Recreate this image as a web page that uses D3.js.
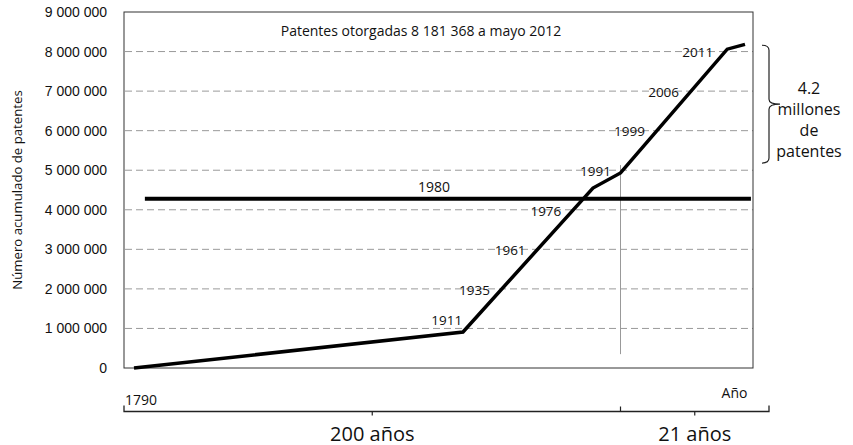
<!DOCTYPE html>
<html>
<head>
<meta charset="utf-8">
<script src="https://cdn.jsdelivr.net/npm/d3@7"></script>
<style>
  body { margin: 0; background: #fff; }
  svg { display: block; font-family: "Open Sans", "Noto Sans", sans-serif; }
</style>
</head>
<body>
<svg id="chart" width="853" height="445"></svg>
<script>
const title = 'Patentes otorgadas 8 181 368 a mayo 2012';
const yLabel = 'Número acumulado de patentes';
const yTickValues = [0, 1000000, 2000000, 3000000, 4000000, 5000000, 6000000, 7000000, 8000000, 9000000];

// cumulative patents curve (schematic time axis)
const lineYears = [1790, 1911, 1977, 1991, 2009, 2012];
const lineValues = [0, 910000, 4550000, 4930000, 8060000, 8181368];

// year in which each million was reached
const milestoneLabels = ['1911', '1935', '1961', '1976', '1991', '1999', '2006', '2011'];
const milestoneValues = [1000000, 2000000, 3000000, 4000000, 5000000, 6000000, 7000000, 8000000];

// 1980 reference level
const refLabel = '1980';
const refValue = 4280000;
const refYears = [1794, 2013];

// thin marker at 1991
const markerYear = 1991;
const markerValues = [350000, 5130000];

// right brace: last 4.2 million
const braceValues = [5180000, 8160000];
const braceText = ['4.2', 'millones', 'de', 'patentes'];

// bottom timeline
const spanLabels = ['200 años', '21 años'];
const spanYears = [[1790, 1991], [1991, 2012]];
const startLabel = '1790';
const xLabel = 'Año';

const margin = { top: 12, right: 100, bottom: 77, left: 124 };
const width = 853 - margin.left - margin.right;
const height = 445 - margin.top - margin.bottom;
const ink = '#111';

const svg = d3.select('#chart');
const g = svg.append('g').attr('transform', `translate(${margin.left},${margin.top})`);

const x = d3.scaleLinear()
  .domain([1790, 1911, 1991, 2012])
  .range([10, 339, 496.5, 621]);

const timeline = d3.scaleLinear()
  .domain([1790, 1991, 2012])
  .range([0, 496.5, 645]);

const y = d3.scaleLinear()
  .domain([0, 9000000])
  .range([height, 0]);

const fmt = d3.formatLocale({ decimal: ',', thousands: ' ', grouping: [3], currency: ['', ''] }).format(',');

// gridlines
g.append('g')
  .selectAll('line')
  .data(yTickValues.filter(v => v > 0 && v < 9000000))
  .enter()
  .append('line')
  .attr('x1', 1)
  .attr('x2', width)
  .attr('y1', d => y(d))
  .attr('y2', d => y(d))
  .attr('stroke', '#9a9a9a')
  .attr('stroke-width', 1)
  .attr('stroke-dasharray', '7,4');

// y axis labels
const yAxis = g.append('g')
  .call(d3.axisLeft(y).tickValues(yTickValues).tickFormat(fmt).tickSize(0).tickPadding(17));
yAxis.select('.domain').remove();
yAxis.selectAll('text')
  .attr('fill', ink)
  .style('font-size', '14px');

// frame
g.append('rect')
  .attr('x', 0)
  .attr('y', 0)
  .attr('width', width)
  .attr('height', height)
  .attr('fill', 'none')
  .attr('stroke', '#333')
  .attr('stroke-width', 1);

// marker line
g.append('line')
  .attr('x1', x(markerYear))
  .attr('x2', x(markerYear))
  .attr('y1', y(markerValues[0]))
  .attr('y2', y(markerValues[1]))
  .attr('stroke', '#999')
  .attr('stroke-width', 1);

// reference line
g.append('line')
  .attr('x1', x(refYears[0]))
  .attr('x2', x(refYears[1]))
  .attr('y1', y(refValue))
  .attr('y2', y(refValue))
  .attr('stroke', '#000')
  .attr('stroke-width', 4);

g.append('text')
  .attr('x', x(refYears[0]) + 0.477 * (x(refYears[1]) - x(refYears[0])))
  .attr('y', y(refValue) - 12)
  .attr('dy', '0.35em')
  .attr('text-anchor', 'middle')
  .attr('fill', ink)
  .style('font-size', '14px')
  .text(refLabel);

// main curve
const pts = lineYears.map((yr, i) => [x(yr), y(lineValues[i])]);
g.append('path')
  .datum(pts)
  .attr('d', d3.line())
  .attr('fill', 'none')
  .attr('stroke', '#000')
  .attr('stroke-width', 3.5)
  .attr('stroke-linejoin', 'miter');

// x position of the curve at a given value
const xAtValue = v => {
  for (let i = 1; i < lineValues.length; i++) {
    if (v <= lineValues[i]) {
      const t = (v - lineValues[i - 1]) / (lineValues[i] - lineValues[i - 1]);
      return pts[i - 1][0] + t * (pts[i][0] - pts[i - 1][0]);
    }
  }
  return pts[pts.length - 1][0];
};

g.append('g')
  .selectAll('text')
  .data(milestoneLabels)
  .enter()
  .append('text')
  .attr('x', (d, i) => xAtValue(milestoneValues[i]) - (i === 0 ? 4 : 12))
  .attr('y', (d, i) => y(milestoneValues[i]) + (i === 0 ? -8 : 1))
  .attr('dy', '0.35em')
  .attr('text-anchor', 'end')
  .attr('fill', ink)
  .style('font-size', '13.5px')
  .text(d => d);

// title
g.append('text')
  .attr('x', 297)
  .attr('y', 19)
  .attr('dy', '0.35em')
  .attr('text-anchor', 'middle')
  .attr('fill', ink)
  .style('font-size', '14px')
  .text(title);

// y axis title
svg.append('text')
  .attr('transform', 'translate(17,190) rotate(-90)')
  .attr('dy', '0.35em')
  .attr('text-anchor', 'middle')
  .attr('fill', ink)
  .style('font-size', '13.2px')
  .text(yLabel);

// right brace
const by0 = y(braceValues[1]);
const by1 = y(braceValues[0]);
const bym = (by0 + by1) / 2;
const bx0 = width + 9;
const bx1 = width + 16;
const bx2 = width + 27;
const r = 5;
g.append('path')
  .attr('d', `M${bx0},${by0} Q${bx1},${by0} ${bx1},${by0 + r} L${bx1},${bym - r} Q${bx1},${bym} ${bx2},${bym} Q${bx1},${bym} ${bx1},${bym + r} L${bx1},${by1 - r} Q${bx1},${by1} ${bx0},${by1}`)
  .attr('fill', 'none')
  .attr('stroke', '#222')
  .attr('stroke-width', 1.2);

g.append('g')
  .selectAll('text')
  .data(braceText)
  .enter()
  .append('text')
  .attr('x', width + 56)
  .attr('y', (d, i) => bym - 16 + i * 21)
  .attr('dy', '0.35em')
  .attr('text-anchor', 'middle')
  .attr('fill', ink)
  .style('font-size', '16px')
  .text(d => d);

// bottom timeline
const tl = svg.append('g').attr('transform', `translate(${margin.left},411.5)`);
const tEnd = timeline(spanYears[1][1]);
tl.append('path')
  .attr('d', `M0,-6 L0,0 L${tEnd},0 L${tEnd},-6`)
  .attr('fill', 'none')
  .attr('stroke', '#222')
  .attr('stroke-width', 1.3);

tl.append('line')
  .attr('x1', timeline(spanYears[1][0]))
  .attr('x2', timeline(spanYears[1][0]))
  .attr('y1', -5)
  .attr('y2', 0)
  .attr('stroke', '#222')
  .attr('stroke-width', 1.2);

tl.selectAll('.mid')
  .data(spanYears)
  .enter()
  .append('line')
  .attr('class', 'mid')
  .attr('x1', d => (timeline(d[0]) + timeline(d[1])) / 2)
  .attr('x2', d => (timeline(d[0]) + timeline(d[1])) / 2)
  .attr('y1', 0)
  .attr('y2', 4)
  .attr('stroke', '#222')
  .attr('stroke-width', 1.2);

tl.selectAll('.span-label')
  .data(spanLabels)
  .enter()
  .append('text')
  .attr('class', 'span-label')
  .attr('x', (d, i) => (timeline(spanYears[i][0]) + timeline(spanYears[i][1])) / 2)
  .attr('y', 22)
  .attr('dy', '0.35em')
  .attr('text-anchor', 'middle')
  .attr('fill', ink)
  .style('font-size', '20px')
  .text(d => d);

tl.append('text')
  .attr('x', 1)
  .attr('y', -11.5)
  .attr('dy', '0.35em')
  .attr('fill', ink)
  .style('font-size', '14px')
  .text(startLabel);

tl.append('text')
  .attr('x', 610.5)
  .attr('y', -18.5)
  .attr('dy', '0.35em')
  .attr('text-anchor', 'middle')
  .attr('fill', ink)
  .style('font-size', '14px')
  .text(xLabel);
</script>
</body>
</html>
